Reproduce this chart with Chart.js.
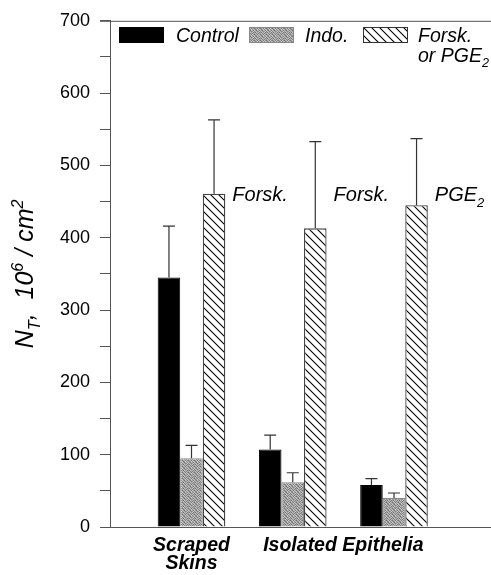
<!DOCTYPE html>
<html>
<head>
<meta charset="utf-8">
<script src="https://cdn.jsdelivr.net/npm/chart.js@4.4.1/dist/chart.umd.min.js"></script>
<style>
  html, body { margin: 0; padding: 0; background: #fff; }
  #wrap { width: 491px; height: 575px; }
</style>
</head>
<body>
<div id="wrap"><canvas id="ntChart"></canvas></div>
<script>
// data
const groupPositions = [1, 2, 3];
const tickPositions = [1, 2.5];
const tickLabels = [['Scraped', 'Skins'], 'Isolated Epithelia'];
const seriesNames = ['Control', 'Indo.', 'Forsk. or PGE2'];
const controlValues = [345, 107, 58];
const controlErrors = [71, 20, 9];
const indoValues = [95, 62, 40];
const indoErrors = [18, 13, 7];
const forskValues = [461, 413, 445];
const forskErrors = [102, 120, 92];
const barNotes = ['Forsk.', 'Forsk.', 'PGE_2'];

const FONT = "'Liberation Sans', Arial, sans-serif";

function hatchPattern() {
    const c = document.createElement('canvas');
    c.width = 8; c.height = 8;
    const g = c.getContext('2d');
    g.fillStyle = '#fff';
    g.fillRect(0, 0, 8, 8);
    g.strokeStyle = '#000';
    g.lineWidth = 1.1;
    g.beginPath();
    g.moveTo(-1, -1); g.lineTo(9, 9);
    g.moveTo(-5, 3); g.lineTo(5, 13);
    g.moveTo(3, -5); g.lineTo(13, 5);
    g.stroke();
    return g.createPattern(c, 'repeat');
}

function stipplePattern() {
    const c = document.createElement('canvas');
    c.width = 6; c.height = 6;
    const g = c.getContext('2d');
    const shades = [
        [176, 120, 196, 158, 110, 186],
        [150, 204, 134, 184, 170, 128],
        [192, 116, 170, 108, 200, 156],
        [124, 182, 152, 198, 130, 178],
        [200, 146, 112, 164, 188, 118],
        [140, 190, 178, 126, 150, 206]
    ];
    for (let y = 0; y < 6; y++) {
        for (let x = 0; x < 6; x++) {
            const s = shades[y][x];
            g.fillStyle = 'rgb(' + s + ',' + s + ',' + s + ')';
            g.fillRect(x, y, 1, 1);
        }
    }
    return g.createPattern(c, 'repeat');
}

const hatch = hatchPattern();
const stipple = stipplePattern();

// draws text where _x is a subscript and ^x a superscript
function drawRich(ctx, str, x, y, size, style, align) {
    const parts = [];
    for (let i = 0; i < str.length; i++) {
        const ch = str[i];
        if ((ch === '_' || ch === '^') && i + 1 < str.length) {
            parts.push({ t: str[i + 1], mode: ch });
            i++;
        } else if (parts.length && !parts[parts.length - 1].mode) {
            parts[parts.length - 1].t += ch;
        } else {
            parts.push({ t: ch, mode: null });
        }
    }
    const small = size * 0.65;
    let total = 0;
    parts.forEach(p => {
        ctx.font = style + ' ' + (p.mode ? small : size) + 'px ' + FONT;
        p.w = ctx.measureText(p.t).width;
        total += p.w;
    });
    let cx = align === 'center' ? x - total / 2 : x;
    ctx.textAlign = 'left';
    ctx.textBaseline = 'alphabetic';
    parts.forEach(p => {
        ctx.font = style + ' ' + (p.mode ? small : size) + 'px ' + FONT;
        let dy = 0;
        if (p.mode === '_') dy = size * 0.28;
        if (p.mode === '^') dy = -size * 0.42;
        ctx.fillText(p.t, cx, y + dy);
        cx += p.w;
    });
}

const extrasPlugin = {
    id: 'extras',
    afterDatasetsDraw(chart) {
        const ctx = chart.ctx;
        const yScale = chart.scales.y;
        const area = chart.chartArea;
        const errs = [controlErrors, indoErrors, forskErrors];

        ctx.save();
        // error bars (upper only)
        ctx.strokeStyle = '#333';
        ctx.lineWidth = 1.2;
        chart.data.datasets.forEach((ds, d) => {
            const meta = chart.getDatasetMeta(d);
            meta.data.forEach((bar, i) => {
                const top = yScale.getPixelForValue(ds.data[i].y + errs[d][i]);
                ctx.beginPath();
                ctx.moveTo(bar.x, bar.y);
                ctx.lineTo(bar.x, top);
                ctx.moveTo(bar.x - 6, top);
                ctx.lineTo(bar.x + 6, top);
                ctx.stroke();
            });
        });

        // top frame line
        ctx.strokeStyle = '#555';
        ctx.lineWidth = 1;
        ctx.beginPath();
        ctx.moveTo(area.left - 10, area.top + 0.5);
        ctx.lineTo(area.right, area.top + 0.5);
        ctx.stroke();

        // notes beside the forskolin / PGE2 bars
        ctx.fillStyle = '#000';
        const noteMeta = chart.getDatasetMeta(2);
        const noteY = yScale.getPixelForValue(455) + 3;
        noteMeta.data.forEach((bar, i) => {
            drawRich(ctx, barNotes[i], bar.x + bar.width / 2 + 7, noteY, 20, 'italic', 'left');
        });

        // legend
        const fills = ['#000', stipple, hatch];
        const borders = ['#000', '#888', '#333'];
        const boxX = [119, 249, 363];
        const textX = [176, 305, 418];
        const lines = [['Control'], ['Indo.'], ['Forsk.', 'or PGE_2']];
        for (let k = 0; k < 3; k++) {
            ctx.fillStyle = fills[k];
            ctx.fillRect(boxX[k], 27, 45, 16);
            ctx.strokeStyle = borders[k];
            ctx.lineWidth = 1;
            ctx.strokeRect(boxX[k] + 0.5, 27.5, 44, 15);
            ctx.fillStyle = '#000';
            lines[k].forEach((ln, j) => {
                drawRich(ctx, ln, textX[k], 42 + j * 20, 19.5, 'italic', 'left');
            });
        }

        // y axis title
        ctx.translate(33, (area.top + area.bottom) / 2);
        ctx.rotate(-Math.PI / 2);
        drawRich(ctx, 'N_T,  10^6 / cm^2', 0, 0, 25, 'italic', 'center');
        ctx.restore();
    }
};

const ctx = document.getElementById('ntChart').getContext('2d');
const ntChart = new Chart(ctx, {
    type: 'bar',
    data: {
        datasets: [
            {
                label: seriesNames[0],
                data: groupPositions.map((x, i) => ({ x: x, y: controlValues[i] })),
                backgroundColor: '#000',
                borderColor: '#000',
                borderWidth: 1
            },
            {
                label: seriesNames[1],
                data: groupPositions.map((x, i) => ({ x: x, y: indoValues[i] })),
                backgroundColor: stipple,
                borderColor: '#888',
                borderWidth: 1
            },
            {
                label: seriesNames[2],
                data: groupPositions.map((x, i) => ({ x: x, y: forskValues[i] })),
                backgroundColor: hatch,
                borderColor: '#444',
                borderWidth: 1.3
            }
        ]
    },
    options: {
        responsive: true,
        maintainAspectRatio: false,
        animation: false,
        categoryPercentage: 0.668,
        barPercentage: 1.0,
        layout: { padding: { top: 16, right: 0, bottom: 0, left: 0 } },
        plugins: {
            legend: { display: false },
            tooltip: { enabled: false }
        },
        scales: {
            x: {
                type: 'linear',
                offset: false,
                min: 0.195,
                max: 3.958,
                grid: { display: false, drawTicks: false, offset: false },
                border: { display: true, color: '#555', width: 1 },
                afterBuildTicks: function(scale) {
                    scale.ticks = tickPositions.map(v => ({ value: v }));
                },
                afterFit: function(scale) { scale.height = 48; },
                ticks: {
                    padding: 9,
                    color: '#000',
                    maxRotation: 0,
                    autoSkip: false,
                    font: { family: FONT, size: 19.5, style: 'italic', weight: 'bold', lineHeight: 0.95 },
                    callback: function(value) {
                        const k = tickPositions.indexOf(value);
                        return k >= 0 ? tickLabels[k] : '';
                    }
                }
            },
            y: {
                min: 0,
                max: 700,
                grid: { display: true, drawOnChartArea: false, drawTicks: true, tickLength: 10, color: '#555' },
                border: { display: true, color: '#555', width: 1 },
                afterFit: function(scale) { scale.width = 110; },
                ticks: {
                    stepSize: 50,
                    padding: 10,
                    color: '#000',
                    font: { family: FONT, size: 18 },
                    callback: function(value) {
                        return value % 100 === 0 ? value : '';
                    }
                }
            }
        }
    },
    plugins: [extrasPlugin]
});
</script>
</body>
</html>
